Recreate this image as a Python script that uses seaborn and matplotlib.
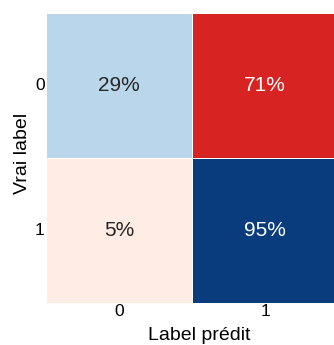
import numpy as np
import pandas as pd
import matplotlib
matplotlib.use("Agg")
import matplotlib.pyplot as plt
import seaborn as sns

# Normalised confusion matrix (rows: true class, columns: predicted class)
class_labels = ["0", "1"]
row_true_0 = [0.29, 0.71]
row_true_1 = [0.05, 0.95]

sns.set_theme(style="white")
plt.rcParams["font.family"] = ["Liberation Sans", "DejaVu Sans"]

cm = pd.DataFrame([row_true_0, row_true_1], index=class_labels, columns=class_labels)
diag = np.eye(len(class_labels), dtype=bool)

fig = plt.figure(figsize=(3.34, 3.45), dpi=100)
ax = fig.add_axes([46 / 334, 42 / 345, 292 / 334, 290 / 345])

common = dict(vmin=0, vmax=1, annot=True, fmt=".0%", cbar=False,
              linewidths=0.5, linecolor="white", annot_kws={"size": 15}, ax=ax)
# correct predictions in blue, errors in red
sns.heatmap(cm, mask=~diag, cmap="Blues", **common)
sns.heatmap(cm, mask=diag, cmap="Reds", **common)

ax.set_xlabel("Label prédit", fontsize=14, color="black")
ax.set_ylabel("Vrai label", fontsize=14, color="black")
ax.xaxis.set_label_coords(0.524, -0.084)
ax.yaxis.set_label_coords(-0.051, 0.517)
ax.tick_params(length=0, pad=1, labelsize=12.5, colors="black")
plt.setp(ax.get_yticklabels(), rotation=0)

fig.savefig("out.png", dpi=100)
